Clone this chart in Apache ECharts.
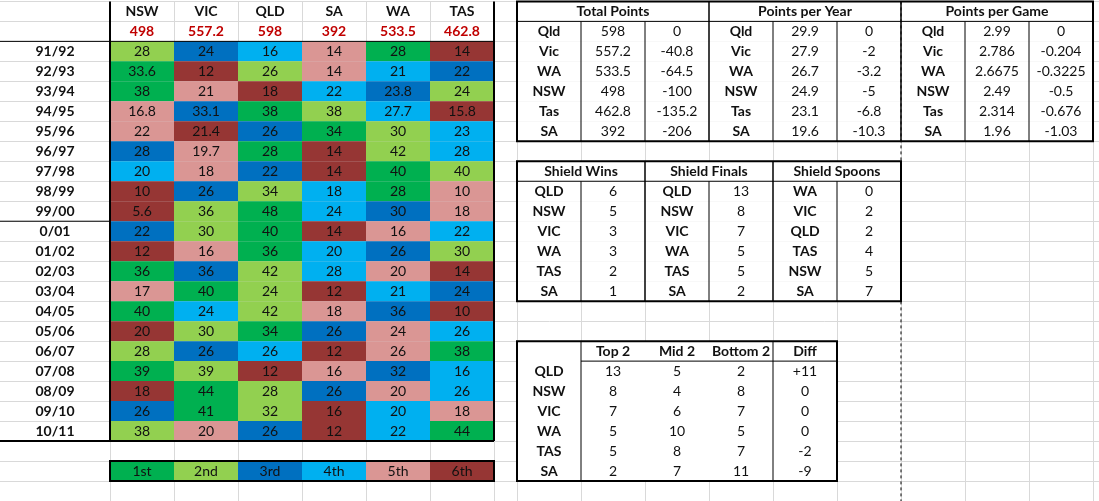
<!DOCTYPE html>
<html><head><meta charset="utf-8">
<script src="https://cdn.jsdelivr.net/npm/echarts@6/dist/echarts.min.js"></script>
<style>html,body{margin:0;padding:0;background:#fff}#c{width:1099px;height:501px}</style>
</head><body><div id="c"></div>
<script>
// ---------- data ----------
const states = ['NSW','VIC','QLD','SA','WA','TAS'];
const totals = [498,557.2,598,392,533.5,462.8];
const seasons = ['91/92','92/93','93/94','94/95','95/96','96/97','97/98','98/99','99/00','0/01','01/02','02/03','03/04','04/05','05/06','06/07','07/08','08/09','09/10','10/11'];
const points = [
 [28,24,16,14,28,14],[33.6,12,26,14,21,22],[38,21,18,22,23.8,24],[16.8,33.1,38,38,27.7,15.8],
 [22,21.4,26,34,30,23],[28,19.7,28,14,42,28],[20,18,22,14,40,40],[10,26,34,18,28,10],
 [5.6,36,48,24,30,18],[22,30,40,14,16,22],[12,16,36,20,26,30],[36,36,42,28,20,14],
 [17,40,24,12,21,24],[40,24,42,18,36,10],[20,30,34,26,24,26],[28,26,26,12,26,38],
 [39,39,12,16,32,16],[18,44,28,26,20,26],[26,41,32,16,20,18],[38,20,26,12,22,44]];
const ranks = [
 [2,3,4,5,1,6],[1,6,2,5,4,3],[1,5,6,4,3,2],[5,3,1,2,4,6],[5,6,3,1,2,4],[3,5,1,6,2,4],
 [4,5,3,6,1,2],[6,3,2,4,1,5],[6,2,1,4,3,5],[3,2,1,6,5,4],[6,5,1,4,3,2],[1,3,2,4,5,6],
 [5,1,2,6,4,3],[1,4,2,5,3,6],[6,2,1,3,5,4],[2,3,4,6,5,1],[1,2,6,5,3,4],[6,1,2,3,5,4],
 [3,1,2,6,4,5],[2,5,3,6,4,1]];
const rankLabels = ['1st','2nd','3rd','4th','5th','6th'];

const tpNames = ['Qld','Vic','WA','NSW','Tas','SA'];
const tpTotal = ['598','557.2','533.5','498','462.8','392'];
const tpDiff = ['0','-40.8','-64.5','-100','-135.2','-206'];
const pyValue = ['29.9','27.9','26.7','24.9','23.1','19.6'];
const pyDiff = ['0','-2','-3.2','-5','-6.8','-10.3'];
const pgValue = ['2.99','2.786','2.6675','2.49','2.314','1.96'];
const pgDiff = ['0','-0.204','-0.3225','-0.5','-0.676','-1.03'];

const winNames = ['QLD','NSW','VIC','WA','TAS','SA'];
const winCounts = [6,5,3,3,2,1];
const finalNames = ['QLD','NSW','VIC','WA','TAS','SA'];
const finalCounts = [13,8,7,5,5,2];
const spoonNames = ['WA','VIC','QLD','TAS','NSW','SA'];
const spoonCounts = [0,2,2,4,5,7];

const bandHeaders = ['Top 2','Mid 2','Bottom 2','Diff'];
const bandNames = ['QLD','NSW','VIC','WA','TAS','SA'];
const top2 = [13,8,7,5,5,2];
const mid2 = [5,4,6,10,8,7];
const bottom2 = [2,8,7,5,7,11];
const bandDiff = ['+11','0','0','0','-2','-9'];

// ---------- styling ----------
const palette = ['#00B050','#92D050','#0070C0','#00B0F0','#DA9694','#963634'];
const FONT = 'Lato, "Open Sans", sans-serif';
const NROWS = 25, TOP = 1.4, RH = 20.3;

function cell(c,r,text,o){ return Object.assign({c:c,r:r,text:String(text)},o||{}); }
function line(c1,r1,c2,r2,w,dash){ return {line:[c1,r1,c2,r2],w:w||1,dash:dash}; }
function box(c1,r1,c2,r2,w){ return {box:[c1,r1,c2,r2],w:w||2}; }

// label column
const labelItems = [];
seasons.forEach((s,i)=>labelItems.push(cell(0,i+2,s,{bold:true})));
labelItems.push(line(0,2,1,2,1), line(0,11,1,11,1), line(0,22,1,22,2));

// main table
const mainItems = [];
states.forEach((s,j)=>{
  mainItems.push(cell(j,0,s,{bold:true}));
  mainItems.push(cell(j,1,totals[j],{bold:true,color:'#C00000'}));
});
points.forEach((row,i)=>row.forEach((v,j)=>mainItems.push(cell(j,i+2,v,{fill:palette[ranks[i][j]-1]}))));
rankLabels.forEach((l,k)=>mainItems.push(cell(k,23,l,{fill:palette[k]})));
mainItems.push(line(0,2,6,2,1), line(0,22,6,22,2), line(0,0,0,22,2), line(6,0,6,22,2), box(0,23,6,24,2));

// right tables
const rItems = [];
[['Total Points',tpNames,tpTotal,tpDiff],['Points per Year',tpNames,pyValue,pyDiff],['Points per Game',tpNames,pgValue,pgDiff]]
.forEach((t,g)=>{
  const c0 = g*3;
  rItems.push(cell(c0,0,t[0],{cs:3,bold:true,fill:'#fff'}));
  for(let i=0;i<6;i++){
    rItems.push(cell(c0,i+1,t[1][i],{bold:true,fill:'#fff'}));
    rItems.push(cell(c0+1,i+1,t[2][i],{fill:'#fff'}));
    rItems.push(cell(c0+2,i+1,t[3][i],{fill:'#fff'}));
  }
  rItems.push(line(c0+1,1,c0+1,7,1), line(c0+2,1,c0+2,7,1));
  if(g>0) rItems.push(line(c0,0,c0,7,1.5));
});
rItems.push(line(0,1,9,1,1), box(0,0,9,7,2));

[['Shield Wins',winNames,winCounts],['Shield Finals',finalNames,finalCounts],['Shield Spoons',spoonNames,spoonCounts]]
.forEach((t,g)=>{
  const c0 = g*2;
  rItems.push(cell(c0,8,t[0],{cs:2,bold:true,fill:'#fff'}));
  for(let i=0;i<6;i++){
    rItems.push(cell(c0,i+9,t[1][i],{bold:true,fill:'#fff'}));
    rItems.push(cell(c0+1,i+9,t[2][i],{fill:'#fff'}));
  }
  rItems.push(line(c0+1,9,c0+1,15,1));
  if(g>0) rItems.push(line(c0,8,c0,15,1.5));
});
rItems.push(line(0,9,6,9,1), box(0,8,6,15,2));

rItems.push(cell(0,17,'',{fill:'#fff'}));
bandHeaders.forEach((h,k)=>rItems.push(cell(k+1,17,h,{bold:true,fill:'#fff'})));
for(let i=0;i<6;i++){
  rItems.push(cell(0,i+18,bandNames[i],{bold:true,fill:'#fff'}));
  rItems.push(cell(1,i+18,top2[i],{fill:'#fff'}));
  rItems.push(cell(2,i+18,mid2[i],{fill:'#fff'}));
  rItems.push(cell(3,i+18,bottom2[i],{fill:'#fff'}));
  rItems.push(cell(4,i+18,bandDiff[i],{fill:'#fff'}));
}
rItems.push(line(1,18,5,18,1), line(1,17,1,24,1), line(4,17,4,24,1), box(0,17,5,24,2));
rItems.push(line(6,0,6,25,1,[3,3]));

// ---------- rendering ----------
function render(items){
  return function(params, api){
    const it = items[params.dataIndex];
    const o = api.coord([0,0]); const s = api.size([1,1]);
    const bx = c=>o[0]-s[0]/2+c*s[0], by = r=>o[1]-s[1]/2+r*s[1];
    if(it.line){
      const L=it.line;
      return {type:'line',shape:{x1:bx(L[0]),y1:by(L[1]),x2:bx(L[2]),y2:by(L[3])},
        style:{stroke:'#000',lineWidth:it.w,lineDash:it.dash||null}};
    }
    if(it.box){
      const B=it.box;
      return {type:'rect',shape:{x:bx(B[0]),y:by(B[1]),width:bx(B[2])-bx(B[0]),height:by(B[3])-by(B[1])},
        style:{fill:null,stroke:'#000',lineWidth:it.w}};
    }
    const x=bx(it.c), y=by(it.r), w=s[0]*(it.cs||1), h=s[1];
    const ch=[];
    if(it.fill) ch.push({type:'rect',shape:{x:x,y:y,width:w,height:h},style:{fill:it.fill}});
    ch.push({type:'text',style:{x:x+w/2,y:y+h/2+0.5,text:it.text,fill:it.color||'#111',
      font:(it.bold?'bold ':'')+'14px '+FONT,align:'center',verticalAlign:'middle'}});
    return {type:'group',children:ch};
  };
}
function seriesFor(items, gi){
  return {type:'custom',xAxisIndex:gi,yAxisIndex:gi,clip:false,silent:true,
    renderItem:render(items),data:items.map(()=>[0,0])};
}
const rowsCat = Array.from({length:NROWS},(_,i)=>String(i));
function cats(n){return Array.from({length:n},(_,i)=>String(i));}
function xAx(gi,n,split){return {gridIndex:gi,type:'category',data:cats(n),axisLine:{show:false},axisTick:{show:false},axisLabel:{show:false},
  splitLine:{show:split,lineStyle:{color:'#d9d9d9',width:1}}};}
function yAx(gi,split){return {gridIndex:gi,type:'category',inverse:true,data:rowsCat,axisLine:{show:false},axisTick:{show:false},axisLabel:{show:false},
  splitLine:{show:split,lineStyle:{color:'#d9d9d9',width:1}}};}

const H = RH*NROWS;
const chart = echarts.init(document.getElementById('c'),null,{renderer:'canvas'});
chart.setOption({
  backgroundColor:'#fff',
  animation:false,
  grid:[
    {left:0,top:TOP,width:1099,height:H},
    {left:0,top:TOP,width:110,height:H},
    {left:110,top:TOP,width:384,height:H},
    {left:517,top:TOP,width:576,height:H}
  ],
  xAxis:[xAx(0,1,false),xAx(1,1,false),xAx(2,6,true),xAx(3,9,true)],
  yAxis:[yAx(0,true),yAx(1,false),yAx(2,false),yAx(3,false)],
  series:[seriesFor(labelItems,1),seriesFor(mainItems,2),seriesFor(rItems,3)]
});
</script></body></html>
